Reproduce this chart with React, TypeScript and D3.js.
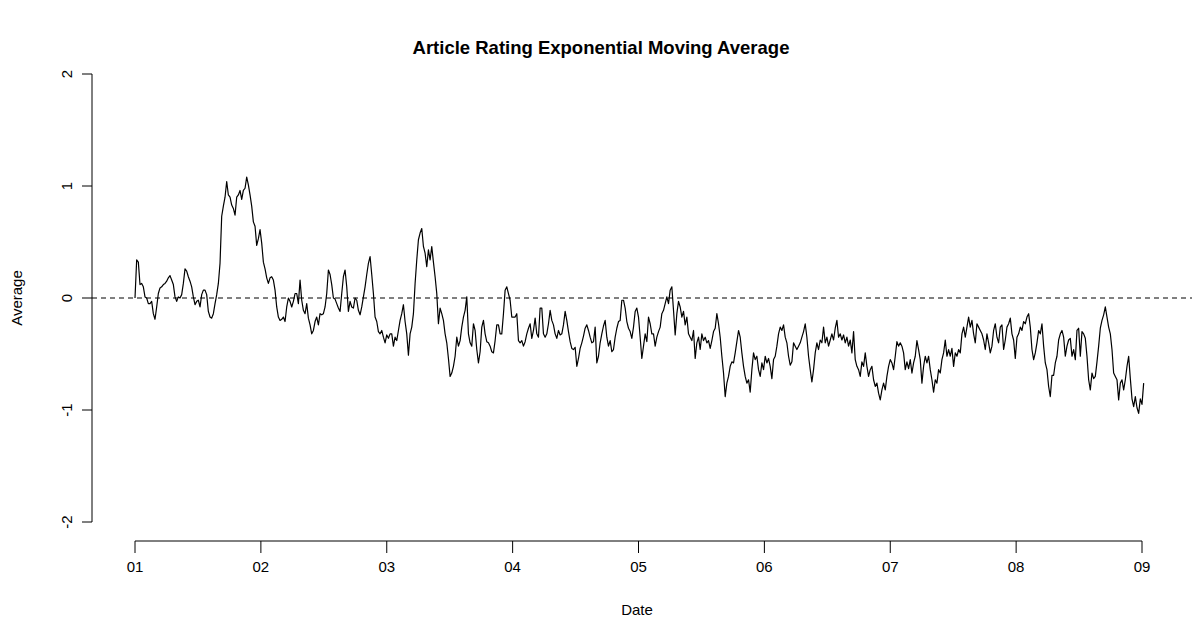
import * as d3 from "d3";

// EMA of article ratings, every 4.8 days,
// one array per stretch of the x axis (in order, evenly spaced in time)
const emaPart1 = [
  0.0, 0.34, 0.32, 0.12, 0.13, 0.1, 0.01, 0.0, -0.05, -0.05, -0.03, -0.14, -0.19, -0.08, 0.04, 0.09, 0.1, 0.12,
  0.13, 0.15, 0.18, 0.2, 0.16, 0.12, 0.01, -0.03, 0.01, 0.0, 0.03, 0.13, 0.26, 0.24, 0.19, 0.15, 0.1, 0.01,
  -0.06, -0.03, -0.02, -0.08, 0.03, 0.07, 0.07, 0.03, -0.12, -0.17, -0.18, -0.14, -0.05, 0.03, 0.13, 0.31,
  0.73, 0.82, 0.9, 1.04, 0.92, 0.9, 0.83, 0.8, 0.74, 0.9, 0.92, 0.96, 0.88, 0.96, 0.98, 1.08, 1.01, 0.92,
  0.82, 0.68,
];
const emaPart2 = [
  0.64, 0.47, 0.53, 0.61, 0.49, 0.32, 0.26, 0.18, 0.13, 0.18, 0.19, 0.16, 0.07, -0.08, -0.17, -0.2, -0.19,
  -0.17, -0.21, -0.08, 0.0, -0.03, -0.08, -0.03, 0.04, 0.04, -0.05, 0.16, -0.02, -0.11, -0.14, -0.05, -0.18,
  -0.24, -0.32, -0.29, -0.21, -0.17, -0.24, -0.14, -0.15, -0.14, -0.08, 0.04, 0.25, 0.21, 0.12, 0.0, -0.01,
  -0.05, -0.09, -0.12, 0.04, 0.19, 0.25, 0.1, -0.12, -0.03, -0.08, -0.09, 0.0, -0.02, -0.11, -0.15, -0.08,
  0.01, 0.1, 0.21, 0.31, 0.37, 0.21, 0.04, -0.17, -0.21, -0.3, -0.32, -0.29, -0.35,
];
const emaPart3 = [
  -0.4, -0.33, -0.36, -0.32, -0.32, -0.43, -0.35, -0.38, -0.29, -0.2, -0.14, -0.06, -0.21, -0.32, -0.51, -0.32,
  -0.26, -0.14, 0.13, 0.34, 0.52, 0.58, 0.62, 0.46, 0.4, 0.28, 0.43, 0.34, 0.46, 0.32, 0.19, 0.04, -0.23,
  -0.09, -0.14, -0.2, -0.32, -0.4, -0.54, -0.7, -0.67, -0.61, -0.52, -0.35, -0.43, -0.38, -0.26, -0.17, -0.11,
  0.01, -0.32, -0.4, -0.43, -0.23, -0.29, -0.46, -0.58, -0.48, -0.26, -0.2, -0.32, -0.39, -0.4, -0.43, -0.48,
  -0.49, -0.38, -0.24, -0.24, -0.32, -0.32, -0.14, 0.07, 0.1, 0.04, -0.02, -0.17, -0.17,
];
const emaPart4 = [
  -0.17, -0.14, -0.38, -0.4, -0.38, -0.43, -0.39, -0.32, -0.27, -0.23, -0.36, -0.29, -0.18, -0.32, -0.35, -0.09,
  -0.09, -0.32, -0.35, -0.32, -0.23, -0.11, -0.2, -0.24, -0.32, -0.36, -0.29, -0.33, -0.32, -0.24, -0.12, -0.2,
  -0.3, -0.39, -0.45, -0.46, -0.44, -0.61, -0.54, -0.45, -0.4, -0.34, -0.27, -0.24, -0.29, -0.35, -0.4, -0.39,
  -0.26, -0.58, -0.52, -0.4, -0.32, -0.25, -0.2, -0.35, -0.43, -0.38, -0.48, -0.46, -0.35, -0.27, -0.21, -0.2,
  -0.02, -0.02, -0.09, -0.21, -0.27, -0.3, -0.36, -0.26, -0.12, -0.09, -0.17, -0.35, -0.54, -0.43,
];
const emaPart5 = [
  -0.32, -0.39, -0.17, -0.23, -0.32, -0.32, -0.43, -0.35, -0.3, -0.26, -0.14, -0.11, -0.05, 0.01, -0.05, 0.07,
  0.1, -0.11, -0.33, -0.14, -0.03, -0.08, -0.17, -0.12, -0.24, -0.17, -0.32, -0.35, -0.38, -0.29, -0.54, -0.4,
  -0.35, -0.46, -0.32, -0.38, -0.35, -0.4, -0.38, -0.45, -0.38, -0.3, -0.27, -0.14, -0.23, -0.35, -0.52, -0.67,
  -0.88, -0.76, -0.7, -0.61, -0.57, -0.58, -0.49, -0.39, -0.29, -0.35, -0.49, -0.61, -0.7, -0.76, -0.73, -0.84,
  -0.64, -0.49, -0.55, -0.52, -0.64, -0.7, -0.58, -0.64, -0.52, -0.58, -0.54, -0.61, -0.72, -0.55,
];
const emaPart6 = [
  -0.52, -0.43, -0.32, -0.26, -0.29, -0.24, -0.35, -0.4, -0.52, -0.6, -0.57, -0.4, -0.43, -0.46, -0.43, -0.4,
  -0.35, -0.3, -0.23, -0.35, -0.52, -0.64, -0.75, -0.64, -0.49, -0.4, -0.46, -0.375, -0.4, -0.26, -0.4, -0.35,
  -0.43, -0.375, -0.32, -0.375, -0.27, -0.2, -0.35, -0.32, -0.375, -0.33, -0.4, -0.35, -0.43, -0.375, -0.49,
  -0.3, -0.55, -0.61, -0.64, -0.7, -0.57, -0.61, -0.49, -0.61, -0.7, -0.64, -0.61, -0.73, -0.79, -0.76, -0.85,
  -0.91, -0.82, -0.76, -0.82, -0.7, -0.61, -0.55, -0.58, -0.64, -0.52, -0.39, -0.43, -0.4, -0.43, -0.49,
];
const emaPart7 = [
  -0.64, -0.57, -0.63, -0.55, -0.67, -0.58, -0.52, -0.38, -0.46, -0.55, -0.76, -0.61, -0.52, -0.58, -0.52, -0.64,
  -0.73, -0.84, -0.73, -0.76, -0.64, -0.67, -0.55, -0.49, -0.375, -0.52, -0.46, -0.52, -0.45, -0.61, -0.49,
  -0.52, -0.46, -0.49, -0.32, -0.26, -0.35, -0.26, -0.17, -0.26, -0.2, -0.32, -0.4, -0.23, -0.26, -0.29, -0.32,
  -0.375, -0.46, -0.32, -0.4, -0.49, -0.43, -0.29, -0.23, -0.35, -0.4, -0.26, -0.24, -0.46, -0.375, -0.26,
  -0.23, -0.18, -0.32, -0.375, -0.54, -0.35, -0.32, -0.26, -0.29, -0.21, -0.23, -0.17, -0.14, -0.26, -0.46,
  -0.55,
];
const emaPart8 = [
  -0.49, -0.4, -0.29, -0.32, -0.23, -0.43, -0.58, -0.64, -0.79, -0.88, -0.69, -0.69, -0.58, -0.52, -0.375, -0.32,
  -0.29, -0.35, -0.52, -0.43, -0.375, -0.36, -0.52, -0.46, -0.55, -0.29, -0.27, -0.52, -0.3, -0.32, -0.36, -0.52,
  -0.73, -0.82, -0.67, -0.72, -0.7, -0.57, -0.43, -0.27, -0.2, -0.15, -0.08, -0.17, -0.26, -0.32, -0.46, -0.67,
  -0.7, -0.73, -0.91, -0.76, -0.73, -0.82, -0.73, -0.61, -0.52, -0.72, -0.9, -0.97, -0.88, -0.98, -1.03, -0.9,
  -0.95, -0.76,
];

const startYear = 2001;
const samplesPerYear = 75.5;
const yearTicks = [2001, 2002, 2003, 2004, 2005, 2006, 2007, 2008, 2009];
const avgTicks = [-2, -1, 0, 1, 2];

type Point = { t: number; v: number };

const ema = [
  ...emaPart1, ...emaPart2, ...emaPart3, ...emaPart4,
  ...emaPart5, ...emaPart6, ...emaPart7, ...emaPart8,
];
const series: Point[] = ema.map((v, i) => ({ t: startYear + i / samplesPerYear, v }));

export default function App() {
  const width = 1192;
  const height = 621;
  const font = "'Liberation Sans', Arial, Helvetica, sans-serif";

  const x = d3.scaleLinear().domain([2001, 2009]).range([135, 1142]);
  const y = d3.scaleLinear().domain([-2, 2]).range([522, 74]);
  const axisX = 92;
  const axisY = 541;

  const line = d3.line<Point>().x((d) => x(d.t)).y((d) => y(d.v));
  const pathData = line(series);
  const fmtYear = (yr: number) => String(yr % 100).padStart(2, "0");

  return (
    <svg
      width={width}
      height={height}
      viewBox={`0 0 ${width} ${height}`}
      style={{ position: "absolute", left: 0, top: 0, background: "#fff" }}
      fontFamily={font}
    >
      <text x={601} y={54} textAnchor="middle" fontSize="18.5" fontWeight="bold" fill="#000">
        Article Rating Exponential Moving Average
      </text>

      {/* y axis */}
      <line x1={axisX} x2={axisX} y1={y(-2)} y2={y(2)} stroke="#000" strokeWidth="1" />
      {avgTicks.map((tick) => (
        <g key={tick}>
          <line x1={axisX - 10} x2={axisX} y1={y(tick)} y2={y(tick)} stroke="#000" />
          <text
            transform={`translate(72, ${y(tick)}) rotate(-90)`}
            textAnchor="middle"
            fontSize="15"
            fill="#000"
          >
            {tick}
          </text>
        </g>
      ))}
      <text transform={`translate(22, ${y(0)}) rotate(-90)`} textAnchor="middle" fontSize="15" fill="#000">
        Average
      </text>

      {/* x axis */}
      <line x1={x(2001)} x2={x(2009)} y1={axisY} y2={axisY} stroke="#000" />
      {yearTicks.map((yr) => (
        <g key={yr}>
          <line x1={x(yr)} x2={x(yr)} y1={axisY} y2={axisY + 12} stroke="#000" />
          <text x={x(yr)} y={572} textAnchor="middle" fontSize="15" fill="#000">
            {fmtYear(yr)}
          </text>
        </g>
      ))}
      <text x={637} y={615} textAnchor="middle" fontSize="15" fill="#000">
        Date
      </text>

      {/* zero reference */}
      <line x1={axisX} x2={width} y1={y(0)} y2={y(0)} stroke="#000" strokeDasharray="5 4" />

      {pathData && <path d={pathData} fill="none" stroke="#000" strokeWidth="1.2" strokeLinejoin="round" />}
    </svg>
  );
}
